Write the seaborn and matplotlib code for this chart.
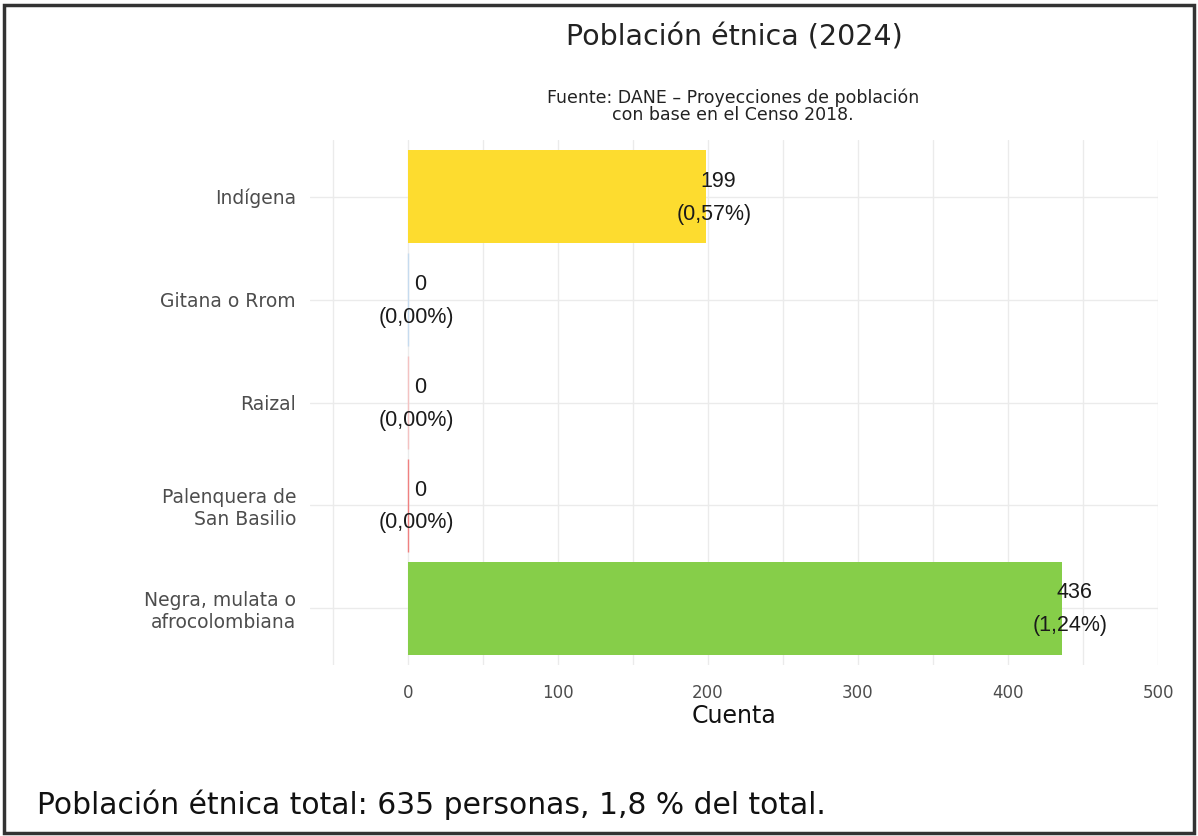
import matplotlib
matplotlib.use("Agg")
import matplotlib.pyplot as plt
import seaborn as sns
import pandas as pd
from matplotlib.patches import Rectangle
from matplotlib.ticker import MultipleLocator
from matplotlib.transforms import offset_copy

categories = ["Indígena", "Gitana o Rrom", "Raizal", "Palenquera de\nSan Basilio",
              "Negra, mulata o\nafrocolombiana"]
counts = [199, 0, 0, 0, 436]
percents = ["0,57%", "0,00%", "0,00%", "0,00%", "1,24%"]
colors = ["#FDDC2F", "#C6DBEF", "#F4C2C2", "#F08080", "#86CE49"]

sns.set_theme(style="whitegrid")
plt.rcParams['font.family'] = ['DejaVu Sans']

df = pd.DataFrame({"cat": categories, "count": counts})

fig = plt.figure(figsize=(11.98, 8.36), dpi=100)
ax = fig.add_axes([310 / 1198, 0.2045, 848 / 1198, 0.628])

sns.barplot(data=df, y="cat", x="count", hue="cat", palette=colors, orient="h",
            width=0.9, legend=False, ax=ax, saturation=1, linewidth=0)

for p, c in zip(ax.patches, colors):
    if p.get_width() == 0:
        p.set_edgecolor(c)
        p.set_linewidth(1.0)

t_count = offset_copy(ax.transData, fig=fig, x=12, y=0, units="dots")
t_pct = offset_copy(ax.transData, fig=fig, x=8, y=0, units="dots")
for i, (v, pc) in enumerate(zip(counts, percents)):
    ax.text(v, i - 0.15, f"{v}", ha="center", va="center", fontsize=15.5, color="#1A1A1A",
            family="Liberation Sans", transform=t_count)
    ax.text(v, i + 0.17, f"({pc})", ha="center", va="center", fontsize=15.5, color="#1A1A1A",
            family="Liberation Sans", transform=t_pct)

ax.set_ylim(4.55, -0.55)
ax.set_xticks([0, 100, 200, 300, 400, 500])
ax.xaxis.set_minor_locator(MultipleLocator(50))
ax.set_xlim(-65.3, 500)
ax.grid(True, which="major", axis="both", color="#EBEBEB", linewidth=1.0)
ax.grid(True, which="minor", axis="x", color="#EBEBEB", linewidth=1.0)
ax.set_axisbelow(True)
for s in ax.spines.values():
    s.set_visible(False)
ax.tick_params(axis="y", which="both", length=0, labelsize=13.5, labelcolor="#4D4D4D", pad=10)
ax.tick_params(axis="x", which="both", length=0, labelsize=12, labelcolor="#4D4D4D", pad=14)
ax.set_ylabel("")
ax.set_xlabel("Cuenta", fontsize=17, color="#111111", labelpad=1)

fig.text(0.613, 0.955, "Población étnica (2024)", ha="center", va="center", fontsize=20.5, color="#222222")
fig.text(0.612, 0.873, "Fuente: DANE – Proyecciones de población\ncon base en el Censo 2018.",
         ha="center", va="center", fontsize=12.5, color="#222222", linespacing=0.95)
fig.text(0.031, 0.037, "Población étnica total: 635 personas, 1,8 % del total.",
         ha="left", va="center", fontsize=21.4, color="#111111")

fig.patches.append(Rectangle((0.003, 0.003), 0.994, 0.991, transform=fig.transFigure,
                             fill=False, edgecolor="#333333", linewidth=2.5))

fig.savefig("out.png", dpi=100, facecolor="white")
